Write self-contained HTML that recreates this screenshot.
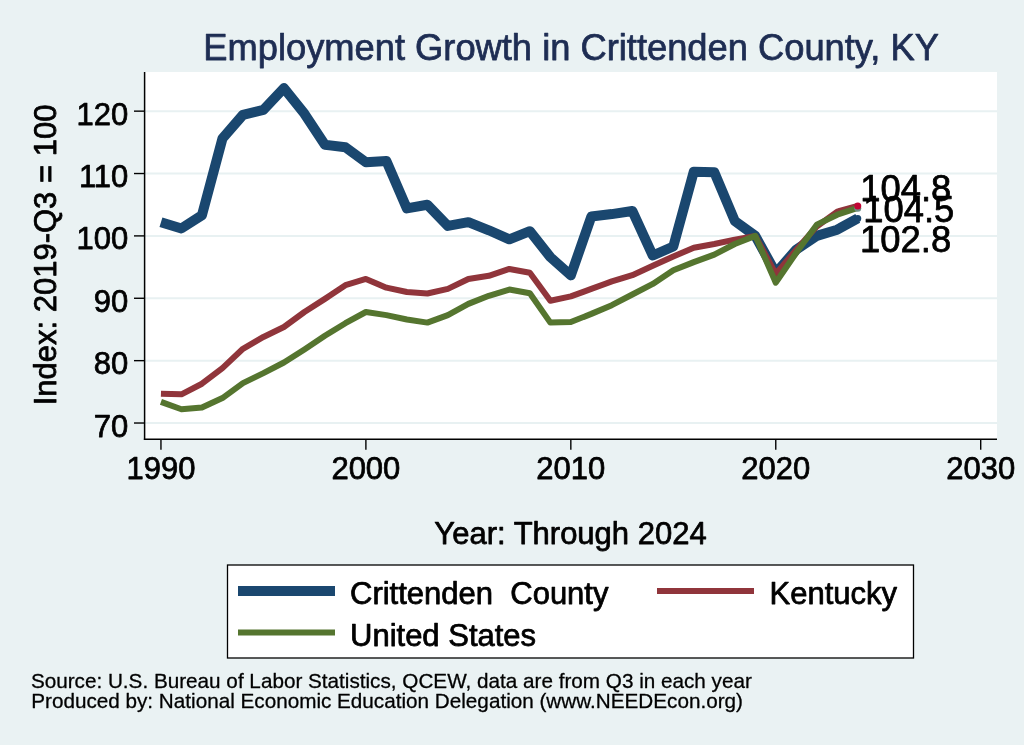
<!DOCTYPE html>
<html><head><meta charset="utf-8"><title>Employment Growth in Crittenden County, KY</title>
<style>
html,body{margin:0;padding:0;background:#eaf2f3;}
body{width:1024px;height:745px;overflow:hidden;}
svg{display:block;}
text{font-family:"Liberation Sans",sans-serif;fill:#000;stroke:#000;stroke-width:0.75px;stroke-linejoin:round;}
.ax{font-size:31px;}
.title{font-size:36.3px;fill:#1e2d53;stroke:#1e2d53;}
.lab{font-size:36.4px;}
.note{font-size:20.7px;stroke-width:0.3px;}
</style></head><body>
<svg width="1024" height="745" viewBox="0 0 1024 745">
<rect x="0" y="0" width="1024" height="745" fill="#eaf2f3"/>
<g opacity="0.999">
<rect x="144" y="72" width="853" height="367" fill="#ffffff"/>
<line x1="145" x2="997" y1="423.02" y2="423.02" stroke="#e8f1f2" stroke-width="2"/><line x1="145" x2="997" y1="360.65" y2="360.65" stroke="#e8f1f2" stroke-width="2"/><line x1="145" x2="997" y1="298.27" y2="298.27" stroke="#e8f1f2" stroke-width="2"/><line x1="145" x2="997" y1="235.90" y2="235.90" stroke="#e8f1f2" stroke-width="2"/><line x1="145" x2="997" y1="173.53" y2="173.53" stroke="#e8f1f2" stroke-width="2"/><line x1="145" x2="997" y1="111.15" y2="111.15" stroke="#e8f1f2" stroke-width="2"/>
<polyline points="160.95,222.18 181.44,228.41 201.94,215.32 222.43,138.60 242.93,114.89 263.42,109.90 283.91,88.07 304.41,113.65 324.90,144.83 345.40,147.33 365.89,162.30 386.38,161.05 406.88,208.45 427.37,204.71 447.87,225.92 468.36,222.18 488.85,230.29 509.35,239.33 529.84,231.22 550.34,257.11 570.83,275.38 591.32,216.56 611.82,214.07 632.31,210.95 652.81,255.55 673.30,246.50 693.79,171.65 714.29,172.28 734.78,220.93 755.28,235.90 775.77,273.01 796.26,249.62 816.76,235.90 837.25,229.66 857.75,218.44" fill="none" stroke="#1a476f" stroke-width="10" stroke-linejoin="round" stroke-linecap="butt"/>
<polyline points="160.95,393.71 181.44,394.33 201.94,383.73 222.43,368.13 242.93,348.80 263.42,336.95 283.91,326.97 304.41,312.00 324.90,298.90 345.40,285.18 365.89,278.94 386.38,287.67 406.88,292.04 427.37,293.53 447.87,288.92 468.36,278.94 488.85,275.82 509.35,268.96 529.84,272.70 550.34,300.77 570.83,296.40 591.32,288.92 611.82,281.43 632.31,275.20 652.81,265.84 673.30,256.48 693.79,247.75 714.29,244.01 734.78,239.64 755.28,235.90 775.77,273.95 796.26,249.62 816.76,226.54 837.25,211.57 857.75,205.96" fill="none" stroke="#90353b" stroke-width="6" stroke-linejoin="round" stroke-linecap="butt"/>
<polyline points="160.95,401.82 181.44,409.30 201.94,407.43 222.43,398.07 242.93,383.10 263.42,373.12 283.91,362.52 304.41,349.42 324.90,335.70 345.40,323.23 365.89,312.00 386.38,315.12 406.88,319.48 427.37,322.60 447.87,315.12 468.36,303.89 488.85,295.78 509.35,289.54 529.84,293.29 550.34,322.60 570.83,321.98 591.32,313.87 611.82,305.14 632.31,294.53 652.81,283.93 673.30,270.21 693.79,262.10 714.29,254.61 734.78,244.01 755.28,235.90 775.77,282.68 796.26,252.74 816.76,224.67 837.25,214.69 857.75,207.83" fill="none" stroke="#55752f" stroke-width="6" stroke-linejoin="round" stroke-linecap="butt"/>
<circle cx="857.75" cy="218.44" r="3.5" fill="#1a476f"/>
<circle cx="857.75" cy="208.2" r="3.5" fill="#6e8e84"/>
<circle cx="857.75" cy="205.96" r="3.5" fill="#c10534"/>
<text x="860.2" y="200.5" class="lab">104.8</text>
<text x="863.2" y="222.4" class="lab">104.5</text>
<text x="860.1" y="252" class="lab">102.8</text>
<line x1="144.6" x2="144.6" y1="72" y2="439.9" stroke="#000" stroke-width="1.5"/>
<line x1="143.85" x2="997" y1="439.2" y2="439.2" stroke="#000" stroke-width="1.5"/>
<line x1="134" x2="144.6" y1="423.02" y2="423.02" stroke="#000" stroke-width="1.4"/><line x1="134" x2="144.6" y1="360.65" y2="360.65" stroke="#000" stroke-width="1.4"/><line x1="134" x2="144.6" y1="298.27" y2="298.27" stroke="#000" stroke-width="1.4"/><line x1="134" x2="144.6" y1="235.90" y2="235.90" stroke="#000" stroke-width="1.4"/><line x1="134" x2="144.6" y1="173.53" y2="173.53" stroke="#000" stroke-width="1.4"/><line x1="134" x2="144.6" y1="111.15" y2="111.15" stroke="#000" stroke-width="1.4"/><text x="128.3" y="436.52" text-anchor="end" class="ax">70</text><text x="128.3" y="374.15" text-anchor="end" class="ax">80</text><text x="128.3" y="311.77" text-anchor="end" class="ax">90</text><text x="128.3" y="249.40" text-anchor="end" class="ax">100</text><text x="128.3" y="187.03" text-anchor="end" class="ax">110</text><text x="128.3" y="124.65" text-anchor="end" class="ax">120</text><line y1="439.2" y2="449.7" x1="160.95" x2="160.95" stroke="#000" stroke-width="1.4"/><line y1="439.2" y2="449.7" x1="365.89" x2="365.89" stroke="#000" stroke-width="1.4"/><line y1="439.2" y2="449.7" x1="570.83" x2="570.83" stroke="#000" stroke-width="1.4"/><line y1="439.2" y2="449.7" x1="775.77" x2="775.77" stroke="#000" stroke-width="1.4"/><line y1="439.2" y2="449.7" x1="980.71" x2="980.71" stroke="#000" stroke-width="1.4"/><text y="478.8" x="160.95" text-anchor="middle" class="ax">1990</text><text y="478.8" x="365.89" text-anchor="middle" class="ax">2000</text><text y="478.8" x="570.83" text-anchor="middle" class="ax">2010</text><text y="478.8" x="775.77" text-anchor="middle" class="ax">2020</text><text y="478.8" x="980.71" text-anchor="middle" class="ax">2030</text>
<text x="571.1" y="59.8" text-anchor="middle" class="title">Employment Growth in Crittenden County, KY</text>
<text transform="translate(56,255) rotate(-90)" text-anchor="middle" class="ax">Index: 2019-Q3 = 100</text>
<text x="570.5" y="544" text-anchor="middle" class="ax">Year: Through 2024</text>
<rect x="227.5" y="565" width="686" height="93" fill="#fff" stroke="#000" stroke-width="1.3"/>
<line x1="238" x2="335" y1="591" y2="591" stroke="#1a476f" stroke-width="10"/>
<line x1="657" x2="754" y1="591" y2="591" stroke="#90353b" stroke-width="6"/>
<line x1="238" x2="335" y1="632.5" y2="632.5" stroke="#55752f" stroke-width="6"/>
<text x="350" y="603.5" class="ax" xml:space="preserve">Crittenden  County</text>
<text x="769.5" y="603.5" class="ax">Kentucky</text>
<text x="350" y="645.5" class="ax">United States</text>
<text x="30.9" y="688.1" class="note">Source: U.S. Bureau of Labor Statistics, QCEW, data are from Q3 in each year</text>
<text x="31.2" y="707.8" class="note">Produced by: National Economic Education Delegation (www.NEEDEcon.org)</text>
</g>
</svg>
</body></html>
